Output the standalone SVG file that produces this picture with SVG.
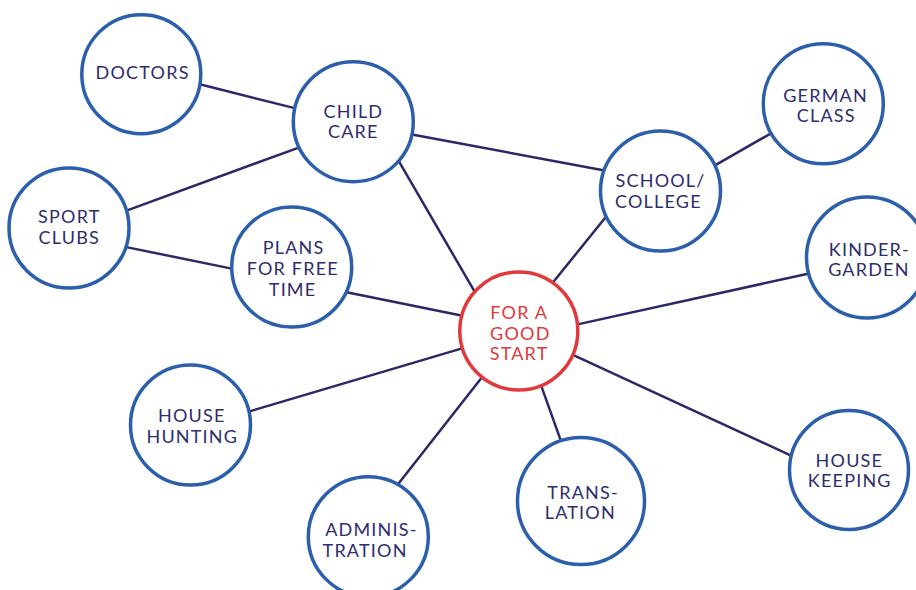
<svg xmlns="http://www.w3.org/2000/svg" width="916" height="590" viewBox="0 0 916 590">
<style>
.bg{fill:#ffffff}
.edge{stroke:#2a2866;stroke-width:2.5;fill:none;stroke-linecap:butt}
.node{fill:#ffffff;stroke:#2c5fab;stroke-width:3.5}
.hub{fill:#ffffff;stroke:#e2383c;stroke-width:3.5}
.lbl{font-family:Lato,"Open Sans","Liberation Sans",sans-serif;font-size:18px;letter-spacing:1.2px;fill:#2e2d6e;text-anchor:middle}
.hubl{fill:#e2383c}
</style>
<rect class="bg" x="0" y="0" width="916" height="590"/>
<g id="connectors">
<line class="edge" x1="199.8" y1="84.3" x2="295.6" y2="108.4"/>
<line class="edge" x1="299.5" y1="147.3" x2="127.2" y2="210.3"/>
<line class="edge" x1="126.4" y1="247.1" x2="232.9" y2="268.9"/>
<line class="edge" x1="345.4" y1="292.1" x2="461.2" y2="315.6"/>
<line class="edge" x1="461.2" y1="348.6" x2="248.8" y2="411.6"/>
<line class="edge" x1="481.2" y1="378.3" x2="397.4" y2="485.1"/>
<line class="edge" x1="541.7" y1="387.2" x2="561" y2="441.1"/>
<line class="edge" x1="474.8" y1="291.9" x2="398.5" y2="160.7"/>
<line class="edge" x1="553.1" y1="282.3" x2="605.2" y2="217.7"/>
<line class="edge" x1="576.4" y1="324.6" x2="807.9" y2="273.7"/>
<line class="edge" x1="574" y1="355.4" x2="792.7" y2="456.3"/>
<line class="edge" x1="412" y1="134.4" x2="604.6" y2="170.6"/>
<line class="edge" x1="714.1" y1="165.8" x2="771.9" y2="132.8"/>
</g>
<g id="doctors">
<circle class="node" cx="141.3" cy="74.2" r="59.5"/>
<text class="lbl" x="142.6" y="79.3">DOCTORS</text>
</g>
<g id="child-care">
<circle class="node" cx="353.3" cy="121.7" r="60"/>
<text class="lbl" x="353.4" y="118.3">CHILD</text>
<text class="lbl" x="353.3" y="138.3">CARE</text>
</g>
<g id="sport-clubs">
<circle class="node" cx="69" cy="228" r="60"/>
<text class="lbl" x="69.3" y="223.3">SPORT</text>
<text class="lbl" x="69.3" y="244">CLUBS</text>
</g>
<g id="plans-for-free-time">
<circle class="node" cx="291.7" cy="267" r="60"/>
<text class="lbl" x="293.6" y="254.3">PLANS</text>
<text class="lbl" x="292.8" y="275">FOR FREE</text>
<text class="lbl" x="292.6" y="296">TIME</text>
</g>
<g id="for-a-good-start">
<circle class="hub" cx="518.8" cy="331" r="59"/>
<text class="lbl hubl" x="519.3" y="319">FOR A</text>
<text class="lbl hubl" x="520.3" y="339.5">GOOD</text>
<text class="lbl hubl" x="519.1" y="360">START</text>
</g>
<g id="school-college">
<circle class="node" cx="660.5" cy="191" r="60"/>
<text class="lbl" x="660.6" y="187.3">SCHOOL/</text>
<text class="lbl" x="658.4" y="207.7">COLLEGE</text>
</g>
<g id="german-class">
<circle class="node" cx="823.3" cy="103.8" r="60"/>
<text class="lbl" x="825.6" y="102.3">GERMAN</text>
<text class="lbl" x="826.3" y="122.3">CLASS</text>
</g>
<g id="kindergarden">
<circle class="node" cx="867" cy="257.5" r="60.5"/>
<text class="lbl" x="869.4" y="255.7">KINDER-</text>
<text class="lbl" x="868.9" y="275.7">GARDEN</text>
</g>
<g id="house-hunting">
<circle class="node" cx="190.5" cy="425" r="60"/>
<text class="lbl" x="191.8" y="422.3">HOUSE</text>
<text class="lbl" x="192.3" y="443.3">HUNTING</text>
</g>
<g id="administration">
<circle class="node" cx="368.3" cy="536.7" r="60"/>
<text class="lbl" x="371.4" y="536">ADMINIS-</text>
<text class="lbl" x="365.1" y="556.7">TRATION</text>
</g>
<g id="translation">
<circle class="node" cx="581" cy="501" r="63.5"/>
<text class="lbl" x="583.1" y="499">TRANS-</text>
<text class="lbl" x="580.3" y="519.3">LATION</text>
</g>
<g id="house-keeping">
<circle class="node" cx="849" cy="470" r="59.5"/>
<text class="lbl" x="849.4" y="466.7">HOUSE</text>
<text class="lbl" x="849.8" y="487.3">KEEPING</text>
</g>
</svg>
